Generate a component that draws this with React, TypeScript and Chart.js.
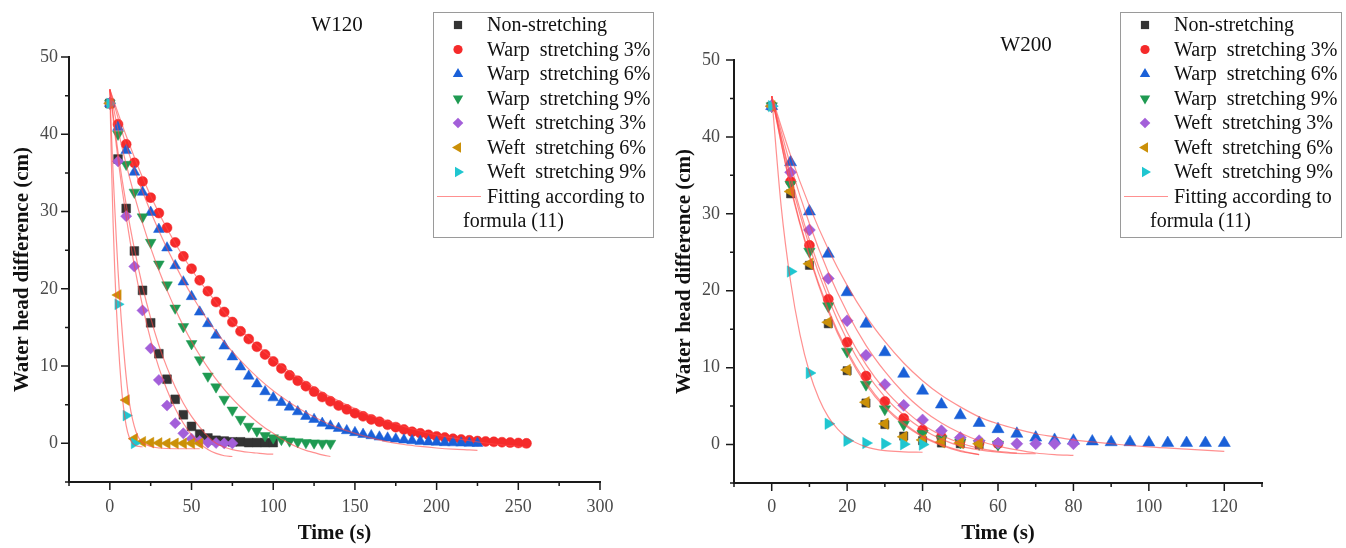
import React, { useEffect, useRef } from 'react';
import { Chart, registerables } from 'chart.js';
import { drawPoint } from 'chart.js/helpers';

Chart.register(...registerables);

const FONT = "'Liberation Serif', 'Times New Roman', Times, serif";

// ---------- labels / styles ----------
const SERIES_LABELS = [
  'Non-stretching',
  'Warp  stretching 3%',
  'Warp  stretching 6%',
  'Warp  stretching 9%',
  'Weft  stretching 3%',
  'Weft  stretching 6%',
  'Weft  stretching 9%',
];
const FIT_LABEL = ['Fitting according to', 'formula (11)'];
const COLORS = ['#333333', '#f52a2a', '#1a60d8', '#1f9a52', '#a35fd9', '#cb9008', '#1fc6d0'];
const POINT_STYLES = ['rect', 'circle', 'triangle', 'triangle', 'rectRot', 'triangle', 'triangle'];
const ROTATIONS = [0, 0, 0, 180, 0, 270, 90];
const LEGEND_RADII = [5.8, 4.6, 6, 6, 5.3, 6, 6];
const FIT_COLOR = 'rgba(255,70,70,0.6)';

// ---------- time axes (s) ----------
const T120 = [0, 5, 10, 15, 20, 25, 30, 35, 40, 45, 50, 55, 60, 65, 70, 75, 80, 85, 90, 95, 100, 105, 110, 115, 120, 125, 130, 135, 140, 145, 150, 155, 160, 165, 170, 175, 180, 185, 190, 195, 200, 205, 210, 215, 220, 225, 230, 235, 240, 245, 250, 255];
const T200 = [0, 5, 10, 15, 20, 25, 30, 35, 40, 45, 50, 55, 60, 65, 70, 75, 80, 85, 90, 95, 100, 105, 110, 115, 120];

// ---------- W120 measured water head difference (cm) ----------
const w120Non = [44, 36.8, 30.4, 24.9, 19.8, 15.6, 11.6, 8.3, 5.7, 3.7, 2.2, 1.2, 0.7, 0.4, 0.3, 0.2, 0.2, 0.1, 0.1, 0.1, 0.1];
const w120Warp3 = [44, 41.3, 38.7, 36.3, 33.9, 31.8, 29.8, 27.9, 26.0, 24.2, 22.6, 21.1, 19.7, 18.3, 17.0, 15.7, 14.5, 13.5, 12.5, 11.5, 10.6, 9.7, 8.8, 8.1, 7.4, 6.7, 6.0, 5.45, 4.9, 4.4, 3.9, 3.5, 3.1, 2.8, 2.4, 2.1, 1.8, 1.5, 1.3, 1.1, 0.9, 0.75, 0.6, 0.5, 0.4, 0.3, 0.25, 0.2, 0.15, 0.1, 0.05, 0.0];
const w120Warp6 = [44, 40.9, 37.9, 35.1, 32.5, 29.9, 27.7, 25.3, 23.0, 20.9, 19.0, 17.0, 15.5, 14.0, 12.6, 11.2, 9.9, 8.7, 7.7, 6.7, 5.9, 5.3, 4.7, 4.1, 3.5, 3.1, 2.6, 2.25, 1.95, 1.65, 1.4, 1.17, 1.0, 0.83, 0.7, 0.57, 0.45, 0.35, 0.27, 0.2, 0.15, 0.1, 0.08, 0.05, 0.03, 0.0];
const w120Warp9 = [44, 40.0, 36.1, 32.5, 29.3, 26.0, 23.2, 20.5, 17.5, 15.1, 12.9, 10.8, 8.7, 7.3, 5.7, 4.3, 3.1, 2.2, 1.6, 1.0, 0.7, 0.5, 0.3, 0.2, 0.1, 0.05, 0.0, 0.0];
const w120Weft3 = [44, 36.5, 29.4, 22.9, 17.2, 12.3, 8.2, 4.9, 2.6, 1.3, 0.6, 0.3, 0.1, 0.05, 0.0, 0.0];
const w120Weft6 = [44, 19.2, 5.6, 0.6, 0.2, 0.1, 0.05, 0, 0, 0, 0, 0];
const w120Weft9 = [44, 18.0, 3.6, 0.0];

// ---------- W120 fitted curves ----------
const fit120NonV = [45.8, 37.7, 30.9, 25.2, 20.3, 16.2, 12.7, 9.8, 7.3, 5.2, 3.5, 2.1, 0.9, 0.0, -0.5, -0.8, -1.0, -1.15, -1.25, -1.35, -1.4];
const fit120Warp3T = [0, 10, 20, 30, 40, 50, 60, 70, 80, 90, 100, 110, 120, 130, 140, 150, 160, 170, 180, 190, 200, 210, 220, 230, 240, 250, 255];
const fit120Warp3V = [45.8, 39.8, 34.4, 29.8, 25.9, 22.5, 19.6, 17.0, 14.7, 12.7, 10.9, 9.3, 7.9, 6.6, 5.5, 4.5, 3.6, 2.9, 2.2, 1.6, 1.1, 0.7, 0.35, 0.05, -0.2, -0.4, -0.5];
const fit120Warp6T = [0, 10, 20, 30, 40, 50, 60, 70, 80, 90, 100, 110, 120, 130, 140, 150, 160, 170, 180, 190, 200, 210, 220, 225];
const fit120Warp6V = [45.8, 38.6, 32.6, 27.5, 23.1, 19.2, 15.9, 13.1, 10.7, 8.6, 6.8, 5.3, 4.0, 2.9, 2.0, 1.3, 0.7, 0.2, -0.15, -0.4, -0.6, -0.75, -0.85, -0.9];
const fit120Warp9V = [45.8, 40.6, 36.1, 32.1, 28.5, 25.3, 22.4, 19.8, 17.4, 15.2, 13.2, 11.4, 9.8, 8.3, 7.0, 5.8, 4.7, 3.7, 2.8, 2.0, 1.3, 0.6, 0.0, -0.5, -0.9, -1.2, -1.5, -1.7];
const fit120Weft3V = [45.8, 36.8, 29.3, 23.0, 17.8, 13.4, 9.8, 6.9, 4.5, 2.6, 1.1, 0.0, -0.8, -1.3, -1.6, -1.7];
const fit120Weft6T = [0, 1, 2, 3, 4, 5, 6, 7, 8, 10, 12, 14, 16, 18, 20, 25, 30, 40, 55];
const fit120Weft6V = [45.8, 40, 35, 30.5, 26.3, 22.4, 19, 16, 13.3, 8.6, 5.2, 3.0, 1.5, 0.6, 0.1, -0.4, -0.6, -0.7, -0.7];
const fit120Weft9T = [0, 1, 2, 3, 4, 5, 6, 7, 8, 10, 12, 14, 16, 18, 20];
const fit120Weft9V = [45.8, 36, 28.5, 22.4, 17.5, 13.6, 10.3, 7.5, 5.3, 2.3, 0.7, 0, -0.3, -0.4, -0.45];

// ---------- W200 measured water head difference (cm) ----------
const w200Non = [44, 32.6, 23.3, 15.7, 9.6, 5.4, 2.6, 1.1, 0.5, 0.2, 0.1, 0.0];
const w200Warp3 = [44, 34.2, 25.9, 18.9, 13.3, 8.9, 5.6, 3.4, 1.9, 1.0, 0.5, 0.2, 0.1];
const w200Warp6 = [44, 36.7, 30.3, 24.8, 19.8, 15.7, 12.0, 9.2, 7.0, 5.2, 3.8, 2.8, 2.0, 1.4, 0.9, 0.6, 0.5, 0.4, 0.3, 0.3, 0.25, 0.2, 0.2, 0.2, 0.2];
const w200Warp9 = [44, 33.8, 25.1, 18.0, 12.1, 7.8, 4.6, 2.6, 1.4, 0.7, 0.3, 0.1, 0.0];
const w200Weft3 = [44, 35.4, 27.9, 21.6, 16.1, 11.6, 7.8, 5.1, 3.2, 1.8, 0.9, 0.5, 0.2, 0.1, 0.1, 0.1, 0.1];
const w200Weft6 = [44, 32.9, 23.5, 15.9, 9.7, 5.5, 2.7, 1.0, 0.6, 0.3, 0.2, 0.1];
const w200Weft9 = [44, 22.5, 9.3, 2.7, 0.5, 0.2, 0.1, 0.05, 0.0];

// ---------- W200 fitted curves ----------
const fit200NonV = [45.3, 33.4, 24.4, 17.3, 11.9, 7.8, 4.8, 2.6, 1.0, -0.1, -0.9, -1.3];
const fit200Warp3V = [45.3, 35.0, 26.6, 19.9, 14.6, 10.4, 7.1, 4.6, 2.6, 1.2, 0.2, -0.5, -0.9, -1.1];
const fit200Warp6T = [0, 5, 10, 15, 20, 25, 30, 35, 40, 45, 50, 55, 60, 65, 70, 75, 80, 90, 100, 110, 120];
const fit200Warp6V = [45.3, 37.6, 31.0, 25.4, 20.7, 16.7, 13.4, 10.6, 8.3, 6.4, 4.9, 3.6, 2.7, 2.0, 1.4, 1.0, 0.6, 0.1, -0.3, -0.6, -0.9];
const fit200Warp9V = [45.3, 34.5, 25.8, 19.0, 13.6, 9.4, 6.2, 3.8, 2.0, 0.7, -0.2, -0.7, -1.0, -1.15, -1.2];
const fit200Weft3V = [45.3, 36.3, 28.7, 22.4, 17.2, 12.9, 9.5, 6.7, 4.5, 2.8, 1.5, 0.5, -0.2, -0.7, -1.1, -1.3, -1.4];
const fit200Weft6V = [45.3, 33.6, 24.6, 17.6, 12.2, 8.1, 5.0, 2.8, 1.1, 0.0, -0.8, -1.3];
const fit200Weft9T = [0, 2.5, 5, 7.5, 10, 12.5, 15, 17.5, 20, 25, 30, 35, 40];
const fit200Weft9V = [45.3, 31, 21.2, 14.3, 9.4, 6.0, 3.6, 2.0, 0.9, -0.3, -0.8, -0.95, -1.0];

// ---------- panel descriptions ----------
const PANELS = [
  {
    title: 'W120',
    left: 0,
    width: 670,
    pad: { top: 57, right: 70 },
    yWidth: 69,
    xHeight: 66,
    xMin: -25, xMax: 300, xStep: 25, xLabelEvery: 50,
    yTitlePad: 12,
    yTickPad: 11,
    xTickPad: 14,
    titlePos: [337, 25],
    legendBox: [433, 12, 220, 225],
    radii: [6.2, 5, 6.2, 6.2, 5.6, 6.2, 6.2],
    series: [w120Non, w120Warp3, w120Warp6, w120Warp9, w120Weft3, w120Weft6, w120Weft9],
    times: T120,
    fits: [
      [T120, fit120NonV],
      [fit120Warp3T, fit120Warp3V],
      [fit120Warp6T, fit120Warp6V],
      [T120, fit120Warp9V],
      [T120, fit120Weft3V],
      [fit120Weft6T, fit120Weft6V],
      [fit120Weft9T, fit120Weft9V],
    ],
  },
  {
    title: 'W200',
    left: 670,
    width: 676,
    pad: { top: 60, right: 84 },
    yWidth: 64,
    xHeight: 65,
    xMin: -10, xMax: 130, xStep: 10, xLabelEvery: 20,
    yTitlePad: 4,
    yTickPad: 14,
    xTickPad: 13,
    titlePos: [356, 45],
    legendBox: [450, 12, 221, 225],
    radii: [5.8, 5, 7, 6.6, 6, 6.6, 6.6],
    series: [w200Non, w200Warp3, w200Warp6, w200Warp9, w200Weft3, w200Weft6, w200Weft9],
    times: T200,
    fits: [
      [T200, fit200NonV],
      [T200, fit200Warp3V],
      [fit200Warp6T, fit200Warp6V],
      [T200, fit200Warp9V],
      [T200, fit200Weft3V],
      [T200, fit200Weft6V],
      [fit200Weft9T, fit200Weft9V],
    ],
  },
];

const decorPlugin = {
  id: 'decor',
  afterDraw(chart: any, _args: any, opts: any) {
    const ctx = chart.ctx;
    const xs = chart.scales.x;
    const ys = chart.scales.y;
    ctx.save();
    // tick marks (major longer, minor shorter), pointing outwards
    ctx.strokeStyle = '#1a1a1a';
    ctx.lineWidth = 1.5;
    ctx.beginPath();
    for (const t of xs.ticks) {
      const px = xs.getPixelForValue(t.value);
      const len = t.label !== '' ? 8 : 4;
      ctx.moveTo(px, ys.bottom);
      ctx.lineTo(px, ys.bottom + len);
    }
    for (const t of ys.ticks) {
      const py = ys.getPixelForValue(t.value);
      const len = t.label !== '' ? 8 : 4;
      ctx.moveTo(xs.left, py);
      ctx.lineTo(xs.left - len, py);
    }
    ctx.stroke();

    // panel title
    ctx.fillStyle = '#111';
    ctx.font = `21px ${FONT}`;
    ctx.textAlign = 'center';
    ctx.textBaseline = 'middle';
    ctx.fillText(opts.title, opts.titlePos[0], opts.titlePos[1]);

    // legend box
    const [bx, by, bw, bh] = opts.legendBox;
    ctx.strokeStyle = '#9a9a9a';
    ctx.lineWidth = 1;
    ctx.strokeRect(bx + 0.5, by + 0.5, bw, bh);
    ctx.font = `20px ${FONT}`;
    ctx.textAlign = 'left';
    const rowH = 24.5;
    const row0 = by + 13;
    SERIES_LABELS.forEach((lab, i) => {
      const ry = row0 + i * rowH;
      ctx.fillStyle = COLORS[i];
      ctx.strokeStyle = COLORS[i];
      drawPoint(ctx, { pointStyle: POINT_STYLES[i], rotation: ROTATIONS[i], radius: LEGEND_RADII[i], borderWidth: 0 } as any, bx + 25, ry);
      ctx.fillStyle = '#111';
      ctx.fillText(lab, bx + 54, ry + 1);
    });
    const fy = row0 + 7 * rowH;
    ctx.strokeStyle = FIT_COLOR;
    ctx.lineWidth = 1.2;
    ctx.beginPath();
    ctx.moveTo(bx + 4, fy);
    ctx.lineTo(bx + 48, fy);
    ctx.stroke();
    ctx.fillStyle = '#111';
    ctx.fillText(FIT_LABEL[0], bx + 54, fy + 1);
    ctx.fillText(FIT_LABEL[1], bx + 30, fy + rowH + 1);
    ctx.restore();
  },
};

function buildConfig(p: any) {
  const datasets: any[] = [];
  p.series.forEach((vals: number[], i: number) => {
    datasets.push({
      type: 'scatter',
      label: SERIES_LABELS[i],
      data: vals.map((v, k) => ({ x: p.times[k], y: v })),
      backgroundColor: COLORS[i],
      borderColor: COLORS[i],
      pointStyle: POINT_STYLES[i],
      rotation: ROTATIONS[i],
      pointRadius: p.radii[i],
      pointBorderWidth: 0.5,
      order: 20 - i,
    });
  });
  p.fits.forEach((f: any, i: number) => {
    const [ts, vs] = f;
    datasets.push({
      type: 'line',
      label: FIT_LABEL.join(' ') + ' ' + i,
      data: vs.map((v: number, k: number) => ({ x: ts[k], y: v })),
      borderColor: FIT_COLOR,
      borderWidth: 1.2,
      pointRadius: 0,
      fill: false,
      cubicInterpolationMode: 'monotone',
      order: 1,
    });
  });

  const tickFont = { family: FONT, size: 18 };
  const titleFont = { family: FONT, size: 21, weight: 'bold' as const, lineHeight: 1 };

  return {
    type: 'scatter' as const,
    data: { datasets },
    plugins: [decorPlugin],
    options: {
      animation: false as const,
      responsive: false,
      devicePixelRatio: 1,
      events: [],
      layout: { padding: { top: p.pad.top, right: p.pad.right, left: 0, bottom: 0 } },
      plugins: {
        legend: { display: false },
        tooltip: { enabled: false },
        title: { display: false },
        decor: { title: p.title, titlePos: p.titlePos, legendBox: p.legendBox },
      },
      scales: {
        x: {
          type: 'linear',
          min: p.xMin,
          max: p.xMax,
          ticks: {
            stepSize: p.xStep,
            autoSkip: false,
            maxRotation: 0,
            padding: p.xTickPad,
            color: '#4a4a4a',
            font: tickFont,
            callback: (v: any) => (Number(v) % p.xLabelEvery === 0 ? String(v) : ''),
          },
          grid: { display: false, drawTicks: false },
          border: { display: true, color: '#1a1a1a', width: 2 },
          title: { display: true, text: 'Time (s)', color: '#111', font: titleFont, padding: { top: 0, bottom: 4 } },
          afterFit: (s: any) => { s.height = p.xHeight; },
        },
        y: {
          type: 'linear',
          min: -5,
          max: 50,
          ticks: {
            stepSize: 5,
            autoSkip: false,
            padding: p.yTickPad,
            color: '#4a4a4a',
            font: tickFont,
            callback: (v: any) => (Number(v) % 10 === 0 ? String(v) : ''),
          },
          grid: { display: false, drawTicks: false },
          border: { display: true, color: '#1a1a1a', width: 2 },
          title: { display: true, text: 'Water head difference (cm)', color: '#111', font: titleFont, padding: { top: p.yTitlePad, bottom: 0 } },
          afterFit: (s: any) => { s.width = p.yWidth; },
        },
      },
    },
  };
}

function Panel({ p }: { p: any }) {
  const ref = useRef<HTMLCanvasElement>(null);
  useEffect(() => {
    const chart = new Chart(ref.current as HTMLCanvasElement, buildConfig(p) as any);
    return () => chart.destroy();
  }, [p]);
  return (
    <canvas
      ref={ref}
      width={p.width}
      height={548}
      style={{ position: 'absolute', left: p.left, top: 0, width: p.width, height: 548 }}
    />
  );
}

export default function App() {
  return (
    <div style={{ position: 'absolute', left: 0, top: 0, width: 1346, height: 548, background: '#fff' }}>
      {PANELS.map((p) => (
        <Panel key={p.title} p={p} />
      ))}
    </div>
  );
}
